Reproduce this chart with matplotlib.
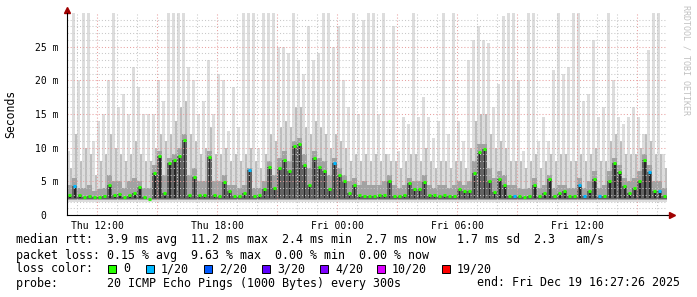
import matplotlib
matplotlib.use("Agg")
import matplotlib.pyplot as plt
from matplotlib.patches import Rectangle
import numpy as np

plt.rcParams["font.family"] = ["DejaVu Sans Mono"]

# 15-minute bins, starting Thu 10:30 (hours since Thu 00:00)
start_h = 10.5
step_h = 0.25

# median rtt per bin (ms)
rtt_med = [
    2.9, 4.3, 2.9, 2.7, 2.8, 2.6, 2.7, 2.8, 4.4, 3.0, 3.1, 2.7, 3.0, 3.3, 4.2,
    2.7, 2.4, 6.2, 8.8, 3.2, 7.7, 8.2, 8.8, 11.2, 3.0, 5.7, 3.0, 3.0, 8.6, 3.0,
    2.8, 4.9, 3.5, 2.8, 2.8, 3.3, 6.7, 2.8, 3.0, 3.8, 7.2, 4.0, 7.0, 8.2, 6.5,
    10.2, 10.5, 7.5, 4.5, 8.5, 7.2, 6.5, 3.8, 7.7, 6.0, 5.0, 3.3, 4.5, 3.0, 2.8,
    2.8, 2.8, 3.0, 2.9, 5.0, 2.8, 2.8, 2.9, 4.7, 3.8, 3.8, 4.9, 3.0, 2.9, 2.8,
    2.9, 2.8, 2.8, 3.8, 3.5, 3.5, 6.2, 9.4, 9.8, 5.0, 3.4, 5.4, 4.5, 2.8, 2.8,
    2.8, 2.6, 2.8, 4.5, 2.8, 3.3, 5.3, 2.8, 3.3, 3.5, 2.8, 2.8, 4.5, 2.8, 3.6,
    5.3, 2.8, 2.8, 5.0, 7.7, 6.4, 4.3, 3.3, 4.0, 5.0, 8.2, 6.4, 3.6, 3.5, 2.8,
]
# upper edges of the smoke bands (ms)
rtt_p75 = [
    4.5, 5.5, 4.0, 4.0, 4.5, 3.5, 3.8, 4.0, 6.0, 5.0, 5.0, 4.0, 5.0, 5.5, 5.0,
    4.0, 4.0, 7.5, 9.5, 6.0, 8.5, 9.0, 10.0, 12.0, 6.0, 7.0, 5.0, 5.0, 9.5, 5.0,
    5.0, 6.0, 4.5, 4.5, 4.0, 4.5, 7.0, 4.0, 4.0, 5.0, 8.0, 6.0, 8.5, 9.5, 8.0,
    11.0, 11.5, 9.0, 7.0, 9.5, 8.5, 8.0, 6.0, 8.5, 7.0, 6.0, 5.0, 5.5, 4.5, 5.0,
    4.5, 4.5, 4.5, 5.0, 6.0, 4.5, 4.0, 4.5, 5.5, 5.0, 5.0, 6.0, 4.5, 4.0, 4.5,
    4.5, 4.0, 4.5, 5.0, 4.5, 5.0, 8.0, 10.5, 10.5, 7.0, 5.5, 6.5, 6.0, 4.5, 4.5,
    4.0, 3.8, 4.0, 5.5, 4.0, 4.5, 6.0, 4.0, 4.5, 4.5, 4.0, 4.0, 5.5, 4.0, 5.0,
    6.5, 4.0, 4.5, 6.5, 8.5, 7.5, 5.5, 5.0, 5.5, 6.5, 9.0, 7.5, 5.0, 5.0, 4.0,
]
rtt_p90 = [
    7, 12, 8, 10, 9, 6, 8, 9, 12, 10, 9, 8, 9, 11, 9,
    8, 8, 10, 12, 11, 12, 14, 16, 17, 12, 11, 9, 10, 13, 9,
    9, 10, 8, 9, 8, 9, 10, 8, 7, 9, 12, 11, 13, 14, 13,
    16, 16, 13, 12, 14, 13, 12, 10, 12, 11, 10, 8, 9, 8, 9,
    8, 9, 8, 9, 8, 8, 7, 8, 9, 9, 8, 10, 8, 7, 8,
    8, 7, 8, 8, 7, 10, 14, 15, 15, 12, 10, 11, 10, 8, 8,
    8, 7, 8, 9, 7, 8, 9, 8, 9, 9, 8, 8, 9, 8, 9,
    10, 8, 8, 11, 12, 11, 9, 9, 9, 10, 12, 11, 9, 9, 7,
]
rtt_max = [
    9.5, 30, 20, 30, 30, 11, 14, 15, 20, 30, 16, 18, 15, 22, 19,
    15, 15, 15, 20, 17, 30, 30, 30, 30, 22, 20, 15, 17, 23, 15,
    21, 20, 12.5, 19, 13, 30, 30, 30, 10, 30, 30, 30, 25, 25, 24,
    30, 23, 21, 28, 23, 24, 30, 30, 25, 28, 20, 16, 30, 15, 29,
    30, 30, 15, 30, 9, 28, 9.5, 14.5, 13.5, 30, 14.5, 17.5, 14.5, 11.5, 14,
    30, 12, 30, 14, 11, 23, 26, 28, 26, 25.5, 16, 19.5, 29.5, 30, 30,
    20, 9.5, 30, 30, 11, 14.5, 11, 21.5, 30, 21, 22, 30, 30, 17, 18,
    26, 14.5, 16, 30, 20, 14.5, 13.5, 14.5, 16, 14.5, 12, 24.5, 30, 30, 9,
]
# lost pings out of 20 per bin
loss = [0] * 120
for b in [1, 36, 53, 89, 102, 103, 106, 116, 118]:
    loss[b] = 1

loss_steps = [0, 1, 2, 3, 4, 10, 19]
loss_labels = ["0", "1/20", "2/20", "3/20", "4/20", "10/20", "19/20"]
loss_colors = ["#26ff00", "#00b8ff", "#0059ff", "#5e00ff", "#7e00ff", "#dd00ff", "#ff0000"]


def loss_color(n):
    c = loss_colors[0]
    for s, col in zip(loss_steps, loss_colors):
        if n >= s:
            c = col
    return c


n = len(rtt_med)
edges = start_h + step_h * np.arange(n + 1)
left = edges[:-1]

fig = plt.figure(figsize=(6.97, 2.97), dpi=100)
ax = fig.add_axes([67 / 697, 82 / 297, 600 / 697, 202 / 297])
ax.set_xlim(start_h, start_h + 30)
ax.set_ylim(0, 30)


def band_full(top, lo, col, z):
    yt = np.append(top, top[-1])
    ax.fill_between(edges, lo, yt, step="post", color=col, lw=0, zorder=z)


def band_thin(top, lo, col, frac, off, z):
    h = np.asarray(top, float) - lo
    ax.bar(left + off * step_h, h, bottom=lo, width=frac * step_h, align="edge",
           color=col, lw=0, zorder=z)


# smoke: light floor + thin spikes to max, then darker inner bands
band_full(rtt_p90, 2.0, "#dddddd", 1.0)
band_thin(rtt_max, 2.0, "#dddddd", 0.5, 0.0, 1.0)
band_thin(rtt_p90, 2.2, "#bdbdbd", 0.4, 0.5, 1.05)
band_full(rtt_p75, 2.2, "#a2a2a2", 1.1)
band_full(rtt_med, 2.4, "#626262", 1.2)
band_thin(rtt_med, 2.5, "#262626", 0.4, 0.3, 1.3)

# median rtt coloured by loss
ax.hlines(rtt_med, left + 0.03, left + 0.21,
          colors=[loss_color(v) for v in loss], lw=2.2, zorder=5)

# grid
xt = np.arange(12, 40, 3)
xl = []
for h in xt:
    if h % 6 == 0:
        day = "Thu" if h < 24 else "Fri"
        xl.append(f"{day} {h % 24:02d}:00")
    else:
        xl.append("")
ax.set_xticks(xt, xl)
ax.set_xticks(np.arange(11, 41, 1), minor=True)
ax.set_yticks(np.arange(0, 30, 5), ["0  ", "5 m", "10 m", "15 m", "20 m", "25 m"])
ax.set_yticks(np.arange(1, 30, 1), minor=True)
ax.grid(which="major", color="#e8a0a0", ls=(0, (1, 2)), lw=0.75)
ax.grid(which="minor", color="#c8c8c8", ls=(0, (1, 2)), lw=0.75)
ax.set_axisbelow(False)
ax.tick_params(axis="both", which="both", length=0, labelsize=7)
ax.tick_params(axis="y", pad=6)
ax.tick_params(axis="x", pad=4)

for s in ["top", "right"]:
    ax.spines[s].set_visible(False)
for s in ["left", "bottom"]:
    ax.spines[s].set_linewidth(0.8)
    ax.spines[s].set_zorder(6)

# axis arrows
ax.plot([start_h, start_h], [30, 30.3], color="black", lw=0.8, clip_on=False)
ax.plot([start_h], [30.45], marker="^", ms=4, color="#a00000", clip_on=False)
ax.plot([start_h + 30, start_h + 30.2], [0, 0], color="black", lw=0.8, clip_on=False)
ax.plot([start_h + 30.27], [0], marker=">", ms=4, color="#a00000", clip_on=False)

fig.text(11 / 697, 1 - 114 / 297, "Seconds", rotation=90, fontsize=8.3,
         ha="center", va="center")
fig.text(686 / 697, 1 - 5 / 297, "RRDTOOL / TOBI OETIKER", rotation=270,
         fontsize=6, color="#c0c0c0", ha="center", va="top")

# legend
x0 = 16 / 697
fs = 8.4
fig.text(x0, 1 - 240 / 297,
         "median rtt:  3.9 ms avg  11.2 ms max  2.4 ms min  2.7 ms now   1.7 ms sd  2.3   am/s",
         fontsize=fs, va="center")
fig.text(x0, 1 - 255 / 297,
         "packet loss: 0.15 % avg  9.63 % max  0.00 % min  0.00 % now",
         fontsize=fs, va="center")
fig.text(x0, 1 - 269 / 297, "loss color:", fontsize=fs, va="center")
box_x = [108, 146, 204, 262, 320, 377, 442]
for bx, lab, col in zip(box_x, loss_labels, loss_colors):
    fig.add_artist(Rectangle((bx / 697, 1 - 273 / 297), 8 / 697, 8 / 297,
                             facecolor=col, edgecolor="black", lw=0.7,
                             transform=fig.transFigure))
    fig.text((bx + 15) / 697, 1 - 269 / 297, lab, fontsize=fs, va="center")
fig.text(x0, 1 - 283 / 297,
         "probe:       20 ICMP Echo Pings (1000 Bytes) every 300s",
         fontsize=fs, va="center")
fig.text(680 / 697, 1 - 283 / 297, "end: Fri Dec 19 16:27:26 2025",
         fontsize=fs, va="center", ha="right")

fig.savefig("out.png", dpi=100, facecolor="white")
